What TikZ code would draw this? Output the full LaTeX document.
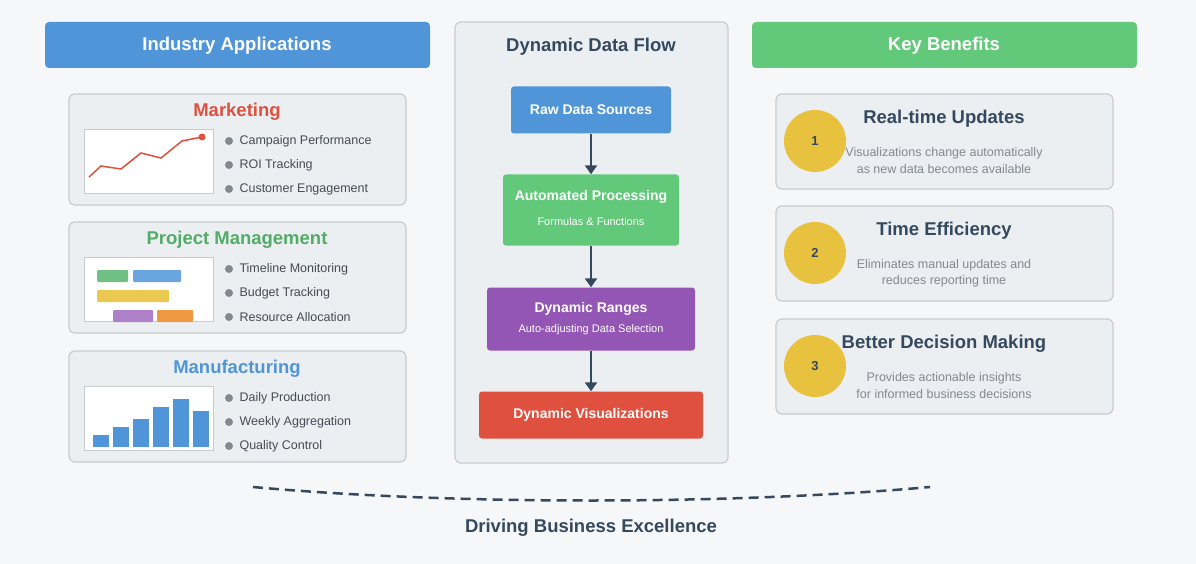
\documentclass[tikz,border=0pt]{standalone}
\usepackage{fontspec}
\setmainfont{Liberation Sans}
\usetikzlibrary{arrows.meta}
\definecolor{bg}{HTML}{F5F7F9}
\definecolor{panel}{HTML}{ECEFF1}
\definecolor{bord}{HTML}{C8CCCF}
\definecolor{dark}{HTML}{34495E}
\definecolor{mblue}{HTML}{4F95D8}
\definecolor{mgreen}{HTML}{62C97A}
\definecolor{mred}{HTML}{E0503F}
\definecolor{mpurple}{HTML}{9356B5}
\definecolor{myellow}{HTML}{E8C23F}
\definecolor{txt}{HTML}{444C55}
\definecolor{gtxt}{HTML}{808A90}
\begin{document}
\begin{tikzpicture}[x=1pt,y=-1pt,
 card/.style={draw=bord,line width=1.2pt,fill=panel,rounded corners=6pt},
 chart/.style={draw=bord,fill=white,line width=0.8pt},
 flow/.style={rounded corners=3pt,text=white,align=center},
 ttl/.style={font=\bfseries\fontsize{18.5}{22}\selectfont},
 bul/.style={anchor=west,text=txt,font=\fontsize{12.5}{15}\selectfont},
 ftl/.style={text=white,font=\bfseries\fontsize{14}{16}\selectfont},
 fsb/.style={text=white,font=\fontsize{11}{13}\selectfont},
 arr/.style={draw=dark,line width=2.8pt,-{Triangle[length=9pt,width=12pt]}}]
\fill[bg] (0,0) rectangle (1196,564);
\useasboundingbox (0,0) rectangle (1196,564);
% headers
\fill[mblue,rounded corners=4pt] (45,22) rectangle (430,68);
\node[text=white,ttl] (h1) at (237,46) {Industry Applications};
\fill[mgreen,rounded corners=4pt] (752,22) rectangle (1137,68);
\node[text=white,ttl] (h3) at (944,46) {Key Benefits};
\draw[card] (455,22) rectangle (728,463);
\node[text=dark,ttl] (h2) at (591,47) {Dynamic Data Flow};
% left cards
\foreach \y/\t/\c/\a/\b/\d in {94/Marketing/mred/Campaign Performance/ROI Tracking/Customer Engagement,
 222/Project Management/mgreen!85!black/Timeline Monitoring/Budget Tracking/Resource Allocation,
 351/Manufacturing/mblue/Daily Production/Weekly Aggregation/Quality Control}{
 \draw[card] (69,\y) rectangle (406,\y+111);
 \node[text=\c,ttl] at (237,\y+18) {\t};
 \draw[chart] (84,\y+35) rectangle (213,\y+99);
 \foreach \k/\s in {0/\a,1/\b,2/\d}{
  \fill[gtxt] (229,\y+47+24*\k) circle (4);
  \node[bul] at (236,\y+47+24*\k) {\s};}
}
\draw[mred,line width=1.5pt] (89,177)--(101,166)--(121,169)--(141,153)--(161,158)--(182,141)--(202,137);
\fill[mred] (202,137) circle (3.5);
\fill[mgreen!90!black,opacity=.85,rounded corners=1pt] (97,270) rectangle (128,282);
\fill[mblue!85,rounded corners=1pt] (133,270) rectangle (181,282);
\fill[myellow!90,rounded corners=1pt] (97,290) rectangle (169,302);
\fill[mpurple!75,rounded corners=1pt] (113,310) rectangle (153,322);
\fill[orange!70!brown!80,rounded corners=1pt] (157,310) rectangle (193,322);
\foreach \xa/\top in {93/435,113/427,133/419,153/407,173/399,193/411}
 \fill[mblue] (\xa,\top) rectangle (\xa+16,447);
% flow
\node[flow,fill=mblue,minimum width=160pt,minimum height=47pt,ftl] (raw) at (591,110) {Raw Data Sources};
\node[flow,fill=mgreen,minimum width=176pt,minimum height=71pt] (auto) at (591,210) {};
\node[ftl] at (591,197) {Automated Processing};
\node[fsb] at (591,222) {Formulas \& Functions};
\node[flow,fill=mpurple,minimum width=208pt,minimum height=63pt] (dr) at (591,319) {};
\node[ftl] at (591,309) {Dynamic Ranges};
\node[fsb] at (591,330) {Auto-adjusting Data Selection};
\node[flow,fill=mred,minimum width=224pt,minimum height=47pt,ftl] (vis) at (591,415) {Dynamic Visualizations};
\draw[arr] (raw) -- (auto);
\draw[arr] (auto) -- (dr);
\draw[arr] (dr) -- (vis);
% right cards
\foreach \y/\n/\t/\a/\b in {94/1/Real-time Updates/Visualizations change automatically/as new data becomes available,
 206/2/Time Efficiency/Eliminates manual updates and/reduces reporting time,
 319/3/Better Decision Making/Provides actionable insights/for informed business decisions}{
 \draw[card] (776,\y) rectangle (1113,\y+95);
 \fill[myellow] (815,\y+47) circle (31);
 \node[text=dark,font=\bfseries\fontsize{13}{15}\selectfont] at (815,\y+47) {\n};
 \node[text=dark,ttl] at (944,\y+25) {\t};
 \node[text=gtxt,font=\fontsize{12.5}{15}\selectfont] at (944,\y+59) {\a};
 \node[text=gtxt,font=\fontsize{12.5}{15}\selectfont] at (944,\y+75) {\b};
}
% bottom
\coordinate (cl) at (253,487); \coordinate (cr) at (930,487);
\draw[dark,line width=2.5pt,dash pattern=on 10pt off 6pt] (cl) .. controls (450,505) and (730,505) .. (cr);
\node[text=dark,font=\bfseries\fontsize{18.5}{22}\selectfont] (foot) at (591,528) {Driving Business Excellence};
\end{tikzpicture}
\end{document}
